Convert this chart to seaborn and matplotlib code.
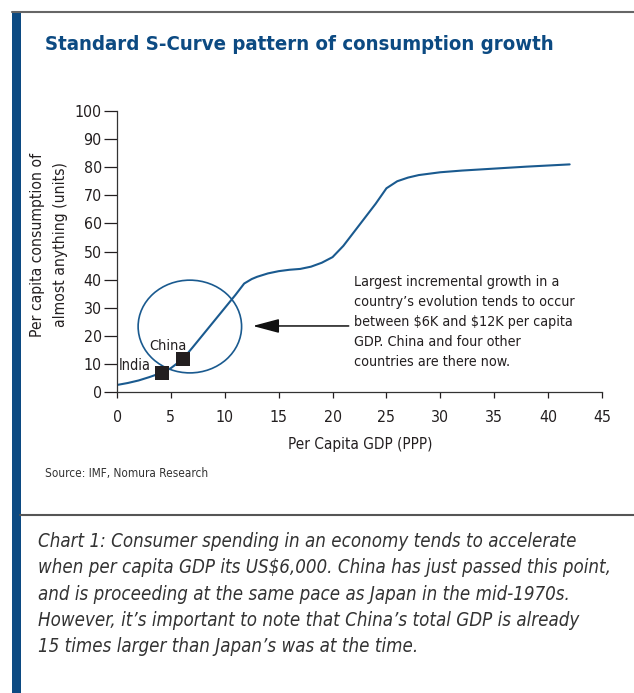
import matplotlib
matplotlib.use("Agg")
import matplotlib.pyplot as plt
from matplotlib.patches import Ellipse
import seaborn as sns
import pandas as pd

# ---- data ----
gdp = [0, 1, 2, 3, 4.2, 5, 6.1, 7, 8, 9, 10, 11, 11.8, 12.5, 13, 14, 15, 16, 17, 18, 19, 20, 21, 22, 23, 24, 25, 26, 27, 28, 30, 32, 35, 38, 42]
consumption = [2.5, 3.2, 4.1, 5.3, 6.9, 8.5, 11.7, 15.8, 20.5, 25.2, 29.9, 34.6, 38.6, 40.2, 41.0, 42.2, 43.0, 43.5, 43.8, 44.6, 46.0, 48.0, 52.0, 57.0, 62.0, 67.0, 72.5, 75.0, 76.3, 77.2, 78.2, 78.8, 79.5, 80.2, 81.0]
countries = ["India", "China"]
country_gdp = [4.2, 6.1]
country_cons = [6.7, 11.7]
x_ticks = [0, 5, 10, 15, 20, 25, 30, 35, 40, 45]
y_ticks = [0, 10, 20, 30, 40, 50, 60, 70, 80, 90, 100]

sns.set_theme(style="white")
plt.rcParams["font.family"] = ["DejaVu Sans"]
plt.rcParams["font.stretch"] = "condensed"

W, H = 634, 693
fig = plt.figure(figsize=(W / 100, H / 100), dpi=100)
R = fig.canvas.get_renderer()

BLUE = "#0c4a82"
CURVE = "#1a5a8f"
TXT = "#231f20"


def fx(px):
    return px / W


def fy(py):
    return 1 - py / H


def ext(t, horiz=False):
    bb = t.get_window_extent(R)
    return bb.width if horiz else bb.height


def fit_width(t, w, rotated=False):
    for _ in range(3):
        cur = ext(t, horiz=not rotated)
        t.set_fontsize(t.get_fontsize() * w / cur)


def fit_spacing(t, dy, rotated=False):
    lines = t.get_text().split("\n")
    n = len(lines)
    t.set_linespacing(1.0)
    h1 = ext(t, horiz=rotated)
    t.set_linespacing(2.0)
    h2 = ext(t, horiz=rotated)
    a = (h2 - h1) / (n - 1)
    full = t.get_text()
    t.set_text(lines[0])
    t.set_linespacing(1.0)
    hs = ext(t, horiz=rotated)
    t.set_text(full)
    d = (h1 - hs) / (n - 1) - a
    t.set_linespacing((dy - d) / a)


# frame decorations
fig.add_artist(plt.Line2D([fx(12), 1], [fy(12), fy(12)], color="#666666", lw=1.5))
fig.add_artist(plt.Rectangle((fx(12), 0), fx(8.5), fy(12), color=BLUE, lw=0))
fig.add_artist(plt.Line2D([fx(20), 1], [fy(515), fy(515)], color="#555555", lw=1.5))

t = fig.text(fx(45), fy(45), "Standard S-Curve pattern of consumption growth",
             fontsize=16, fontweight="bold", color=BLUE, va="center", ha="left")
fit_width(t, 508)

ax = fig.add_axes([fx(117), fy(392), fx(602) - fx(117), fy(111) - fy(392)])
df = pd.DataFrame({"gdp": gdp, "cons": consumption})
sns.lineplot(data=df, x="gdp", y="cons", ax=ax, color=CURVE, lw=1.5, sort=True)
cdf = pd.DataFrame({"country": countries, "gdp": country_gdp, "cons": country_cons})
sns.scatterplot(data=cdf, x="gdp", y="cons", ax=ax, marker="s", s=100, color=TXT,
                edgecolor="none", zorder=5)

ax.add_patch(Ellipse((6.76, 23.3), 9.6, 33, fill=False, edgecolor=CURVE, lw=1.2))
ax.annotate("", xy=(12.6, 23.5), xytext=(21.5, 23.5),
            arrowprops=dict(arrowstyle="-|>,head_length=1.35,head_width=0.36",
                            color="#111111", lw=1.1, shrinkA=0, shrinkB=0))
note = ax.text(21.95, 24.9,
               "Largest incremental growth in a\ncountry\u2019s evolution tends to occur\nbetween \\$6K and \\$12K per capita\nGDP. China and four other\ncountries are there now.",
               fontsize=10.5, color=TXT, va="center", ha="left")
fit_width(note, 221)
fit_spacing(note, 20)

t = ax.text(1.0, 9.6, "India", fontsize=11, color=TXT, ha="center", va="center")
fit_width(t, 32)
t.set_x((135 - 117) / 10.8)
t = ax.text((167.5 - 117) / 10.8, (392 - 346) / 2.81, "China", fontsize=11, color=TXT, ha="center", va="center")
fit_width(t, 37)

# tick label size from "100" width
tmp = fig.text(0, 0, "100", fontsize=11)
fit_width(tmp, 27)
tick_fs = tmp.get_fontsize()
tmp.remove()

ax.set_xlim(0, 45)
ax.set_ylim(0, 100)
ax.set_xticks(x_ticks)
ax.set_yticks(y_ticks)
ax.tick_params(axis="both", labelsize=tick_fs, colors=TXT, width=0.9, direction="out",
               bottom=True, left=True)
ax.tick_params(axis="y", length=9.5, pad=1.5)
ax.tick_params(axis="x", length=4.3, pad=9)
for s in ["top", "right"]:
    ax.spines[s].set_visible(False)
for s in ["left", "bottom"]:
    ax.spines[s].set_color("#333333")
    ax.spines[s].set_linewidth(0.9)
ax.patch.set_alpha(0)

ax.set_xlabel("Per Capita GDP (PPP)", fontsize=11, color=TXT)
fit_width(ax.xaxis.label, 144)
ax.xaxis.label.set_va("center")
ax.xaxis.set_label_coords((360 - 117) / 485, (392 - 445) / 281)

ax.set_ylabel("")
t = fig.text(fx(49), fy(245), "Per capita consumption of\nalmost anything (units)",
             rotation=90, fontsize=11, color=TXT, ha="center", va="center", multialignment="center")
fit_width(t, 184, rotated=True)
fit_spacing(t, 22, rotated=True)

t = fig.text(fx(45), fy(473), "Source: IMF, Nomura Research", fontsize=8, color="#333333", va="center")
fit_width(t, 163)

caption = ("Chart 1: Consumer spending in an economy tends to accelerate\n"
           "when per capita GDP its US\\$6,000. China has just passed this point,\n"
           "and is proceeding at the same pace as Japan in the mid-1970s.\n"
           "However, it\u2019s important to note that China\u2019s total GDP is already\n"
           "15 times larger than Japan\u2019s was at the time.")
cap = fig.text(fx(38), fy(594.2), caption, fontsize=13, style="italic", color="#333333",
               va="center", ha="left")
fit_width(cap, 576)
fit_spacing(cap, 26.25)

fig.savefig("out.png", dpi=100, facecolor="white")
